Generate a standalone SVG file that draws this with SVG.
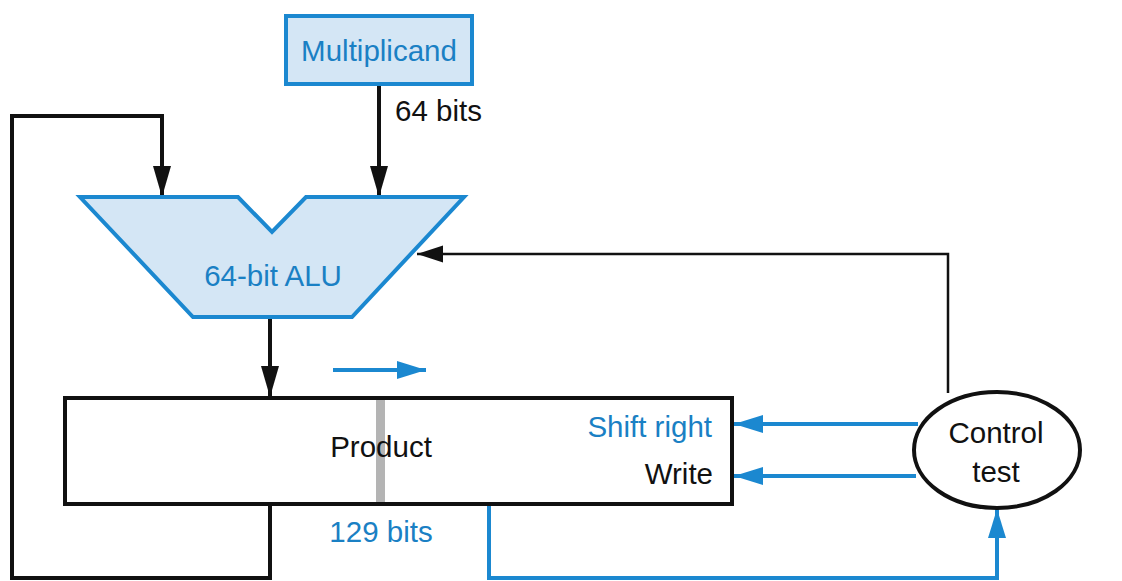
<svg xmlns="http://www.w3.org/2000/svg" width="1122" height="581" viewBox="0 0 1122 581">
<defs>
<style>
.t{font-family:"Liberation Sans",Arial,sans-serif;font-size:29.5px}
.blue{fill:#1a80c4}
.blk{fill:#111}
.bw{stroke:#111;stroke-width:4;fill:none}
.bthin{stroke:#111;stroke-width:2.5;fill:none}
.bl{stroke:#1b88d0;stroke-width:4;fill:none}
</style>
<marker id="ak" markerUnits="userSpaceOnUse" markerWidth="32" markerHeight="20" refX="31" refY="9" orient="auto"><path d="M0,0 L31,9 L0,18 z" fill="#111"/></marker>
<marker id="akt" markerUnits="userSpaceOnUse" markerWidth="28" markerHeight="18" refX="26" refY="8.5" orient="auto"><path d="M0,0 L26,8.5 L0,17 z" fill="#111"/></marker>
<marker id="ab" markerUnits="userSpaceOnUse" markerWidth="32" markerHeight="20" refX="29" refY="9" orient="auto"><path d="M0,0 L29,9 L0,18 z" fill="#1b88d0"/></marker>
</defs>
<rect width="1122" height="581" fill="#fff"/>
<g id="connectors">
<path class="bw" d="M379,85 V197" marker-end="url(#ak)"/>
<path class="bw" d="M270,505 V578 H12 V116 H162 V197" marker-end="url(#ak)"/>
<path class="bw" d="M270,318 V397" marker-end="url(#ak)"/>
<path class="bthin" d="M948,393 V254 H417" marker-end="url(#akt)"/>
<path class="bl" d="M489,505 V578 H997 V509" marker-end="url(#ab)"/>
<path class="bl" d="M918,424 H734" marker-end="url(#ab)"/>
<path class="bl" d="M916,476 H734" marker-end="url(#ab)"/>
<path class="bl" d="M333,370 H426" marker-end="url(#ab)"/>
</g>
<g id="multiplicand">
<rect x="286" y="16" width="186" height="68" fill="#d4e6f5" stroke="#1b88d0" stroke-width="4"/>
<text class="t blue" x="379" y="61" text-anchor="middle">Multiplicand</text>
</g>
<text class="t blk" x="395" y="121">64 bits</text>
<g id="alu">
<path d="M80,197 H238 L272,232 L306,197 H464 L352,317 H193 Z" fill="#d4e6f5" stroke="#1b88d0" stroke-width="4" stroke-linejoin="miter"/>
<text class="t blue" x="273" y="286" text-anchor="middle">64-bit ALU</text>
</g>
<g id="product">
<rect x="65" y="398" width="667" height="106" fill="#fff" stroke="#111" stroke-width="4"/>
<rect x="376" y="400" width="9" height="102" fill="#b4b4b4"/>
<text class="t blk" x="381" y="457" text-anchor="middle">Product</text>
<text class="t blue" x="712" y="437" text-anchor="end">Shift right</text>
<text class="t blk" x="713" y="484" text-anchor="end">Write</text>
</g>
<text class="t blue" x="381" y="542" text-anchor="middle">129 bits</text>
<g id="control">
<ellipse cx="997" cy="450" rx="83" ry="58" fill="#fff" stroke="#111" stroke-width="4"/>
<text class="t blk" x="996" y="443" text-anchor="middle">Control</text>
<text class="t blk" x="996" y="482" text-anchor="middle">test</text>
</g>
</svg>
